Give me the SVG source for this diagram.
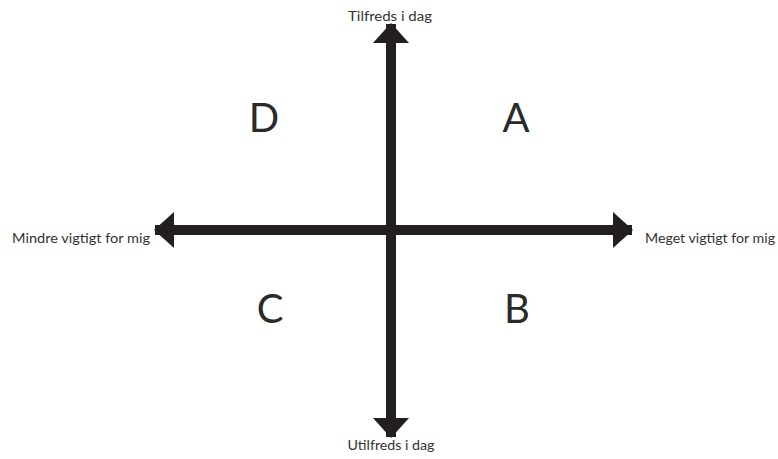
<svg xmlns="http://www.w3.org/2000/svg" width="778" height="459" viewBox="0 0 778 459">
<style>
.axis{stroke:#231f20;stroke-width:10;fill:none;marker-start:url(#head);marker-end:url(#head)}
.lbl{font-family:Lato,"Open Sans","Liberation Sans",sans-serif;font-size:14px;fill:#333333}
.q{font-family:Lato,"Open Sans","Liberation Sans",sans-serif;font-size:40px;fill:#2a2a2a;text-anchor:middle}
</style>
<defs>
<marker id="head" viewBox="0 0 20 36" markerWidth="20" markerHeight="36" refX="19" refY="18" orient="auto-start-reverse" markerUnits="userSpaceOnUse">
<path d="M0,0 L20,18 L0,36 Z" fill="#231f20"/>
</marker>
</defs>
<rect width="778" height="459" fill="#ffffff"/>
<g id="connectors">
<line class="axis" x1="391" y1="437" x2="391" y2="24"/>
<line class="axis" x1="632" y1="230" x2="155" y2="230"/>
</g>
<g id="top-label"><text class="lbl" x="390" y="21" text-anchor="middle" textLength="84" lengthAdjust="spacingAndGlyphs">Tilfreds i dag</text></g>
<g id="bottom-label"><text class="lbl" x="391" y="450" text-anchor="middle" textLength="87" lengthAdjust="spacingAndGlyphs">Utilfreds i dag</text></g>
<g id="left-label"><text class="lbl" x="12" y="243" textLength="138" lengthAdjust="spacingAndGlyphs">Mindre vigtigt for mig</text></g>
<g id="right-label"><text class="lbl" x="645" y="243" textLength="130" lengthAdjust="spacingAndGlyphs">Meget vigtigt for mig</text></g>
<g id="quad-A"><text class="q" x="516" y="132">A</text></g>
<g id="quad-B"><text class="q" x="517" y="323">B</text></g>
<g id="quad-C"><text class="q" x="270" y="323">C</text></g>
<g id="quad-D"><text class="q" x="264" y="132">D</text></g>
</svg>
